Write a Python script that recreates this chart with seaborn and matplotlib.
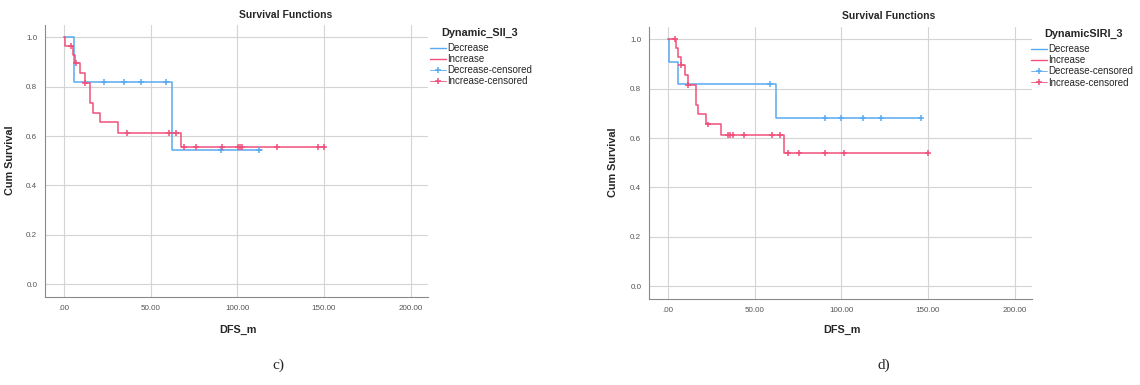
import numpy as np
import pandas as pd
import seaborn as sns
import matplotlib.pyplot as plt
from matplotlib.lines import Line2D

# ---- data ----
# panel c) Dynamic_SII_3
sii_dec_t = [0, 6.0, 62.0, 114.0]
sii_dec_s = [1.0, 0.818, 0.545, 0.545]
sii_dec_cens = [23.1, 34.7, 44.3, 58.6, 90.6, 112.7]

sii_inc_t = [0, 0.8, 5.2, 6.5, 9.1, 12.0, 15.2, 16.5, 20.6, 31.2, 67.5, 150.0]
sii_inc_s = [1.0, 0.966, 0.93, 0.895, 0.854, 0.814, 0.733, 0.692, 0.658, 0.611, 0.557, 0.557]
sii_inc_cens = [3.9, 6.8, 12.0, 36.6, 60.7, 64.6, 69.2, 76.1, 91.0, 100.2, 101.5,
                102.5, 122.7, 146.8, 150.0]

# panel d) DynamicSIRI_3
siri_dec_t = [0, 0.3, 6.0, 62.1, 146.0]
siri_dec_s = [1.0, 0.909, 0.818, 0.682, 0.682]
siri_dec_cens = [58.9, 90.6, 99.7, 112.7, 122.7, 145.8]

siri_inc_t = [0, 4.8, 6.0, 7.3, 9.5, 11.5, 16.0, 17.5, 21.8, 30.4, 66.9, 150.0]
siri_inc_s = [1.0, 0.965, 0.93, 0.895, 0.854, 0.814, 0.733, 0.699, 0.655, 0.611, 0.54, 0.54]
siri_inc_cens = [4.0, 7.3, 11.5, 23.1, 34.3, 35.8, 37.2, 43.9, 60.2, 64.6, 69.2, 75.6,
                 90.6, 101.6, 150.0]

groups = ["Decrease", "Increase"]
xticks = [0, 50, 100, 150, 200]
xticklabels = [".00", "50.00", "100.00", "150.00", "200.00"]
yticks = [0.0, 0.2, 0.4, 0.6, 0.8, 1.0]

BLUE = "#5aaaf0"
RED = "#f0507a"
pal = {"Decrease": BLUE, "Increase": RED}

sns.set_style("white")
plt.rcParams["font.family"] = ["Liberation Sans", "DejaVu Sans"]


def surv_at(t, steps_t, steps_s):
    idx = np.searchsorted(steps_t, t, side="right") - 1
    return np.asarray(steps_s)[idx]


def build(dec_t, dec_s, dec_c, inc_t, inc_s, inc_c):
    curves = pd.concat([
        pd.DataFrame({"time": dec_t, "surv": dec_s, "group": "Decrease"}),
        pd.DataFrame({"time": inc_t, "surv": inc_s, "group": "Increase"}),
    ])
    cens = pd.concat([
        pd.DataFrame({"time": dec_c, "surv": surv_at(dec_c, dec_t, dec_s), "group": "Decrease"}),
        pd.DataFrame({"time": inc_c, "surv": surv_at(inc_c, inc_t, inc_s), "group": "Increase"}),
    ])
    return curves, cens


def draw(ax, curves, cens, ylab_x, xlab_y):
    sns.lineplot(data=curves, x="time", y="surv", hue="group", palette=pal,
                 hue_order=groups, drawstyle="steps-post", estimator=None,
                 linewidth=1.1, legend=False, ax=ax)
    sns.scatterplot(data=cens, x="time", y="surv", hue="group", palette=pal,
                    hue_order=groups, marker="+", s=18, linewidth=1.1,
                    legend=False, ax=ax, zorder=3)
    ax.set_xlim(-11, 210)
    ax.set_ylim(-0.052, 1.05)
    ax.set_xticks(xticks)
    ax.set_xticklabels(xticklabels)
    ax.set_yticks(yticks)
    ax.set_yticklabels([f"{v:.1f}" for v in yticks])
    ax.grid(True, color="#d4d4d4", linewidth=0.8)
    ax.tick_params(axis="both", labelsize=5.8, colors="#555555", length=2, width=0.6)
    for sp in ["top", "right"]:
        ax.spines[sp].set_visible(False)
    for sp in ["left", "bottom"]:
        ax.spines[sp].set_color("#8a8a8a")
        ax.spines[sp].set_linewidth(0.8)
    ax.set_xlabel("DFS_m", fontsize=7.8, fontweight="bold")
    ax.set_ylabel("Cum Survival", fontsize=7.8, fontweight="bold")
    ax.yaxis.set_label_coords(ylab_x, 0.504)
    ax.xaxis.set_label_coords(0.504, xlab_y)


fig = plt.figure(figsize=(11.4, 3.85), dpi=100)
ax1 = fig.add_axes([45 / 1140, 1 - 297 / 385, 383 / 1140, 272 / 385])
ax2 = fig.add_axes([649 / 1140, 1 - 299 / 385, 383 / 1140, 272 / 385])

c1, k1 = build(sii_dec_t, sii_dec_s, sii_dec_cens, sii_inc_t, sii_inc_s, sii_inc_cens)
c2, k2 = build(siri_dec_t, siri_dec_s, siri_dec_cens, siri_inc_t, siri_inc_s, siri_inc_cens)
draw(ax1, c1, k1, -0.078, -0.103)
draw(ax2, c2, k2, -0.081, -0.096)

fig.text(286 / 1140, 1 - 15 / 385, "Survival Functions", ha="center", va="center",
         fontsize=7.5, fontweight="bold")
fig.text(889 / 1140, 1 - 16 / 385, "Survival Functions", ha="center", va="center",
         fontsize=7.5, fontweight="bold")

handles = [
    Line2D([], [], color=BLUE, lw=1.0),
    Line2D([], [], color=RED, lw=1.0),
    Line2D([], [], color=BLUE, lw=0.6, marker="+", ms=5, mew=1.1),
    Line2D([], [], color=RED, lw=0.6, marker="+", ms=5, mew=1.1),
]
labels = ["Decrease", "Increase", "Decrease-censored", "Increase-censored"]

for x0, y0, tx, ty, ttl in [(430, 43, 441, 33, "Dynamic_SII_3"),
                            (1031, 44, 1044, 34, "DynamicSIRI_3")]:
    fig.legend(handles, labels, loc="upper left",
               bbox_to_anchor=(x0 / 1140, 1 - y0 / 385), frameon=False,
               fontsize=7, handlelength=1.6, handletextpad=0.15,
               labelspacing=0.12, borderpad=0, borderaxespad=0)
    fig.text(tx / 1140, 1 - ty / 385, ttl, ha="left", va="center",
             fontsize=7.8, fontweight="bold")

fig.text(278 / 1140, 1 - 365 / 385, "c)", ha="center", va="center", fontsize=11,
         family=["Liberation Serif", "DejaVu Serif"])
fig.text(884 / 1140, 1 - 365 / 385, "d)", ha="center", va="center", fontsize=11,
         family=["Liberation Serif", "DejaVu Serif"])

fig.savefig("out.png", dpi=100)
